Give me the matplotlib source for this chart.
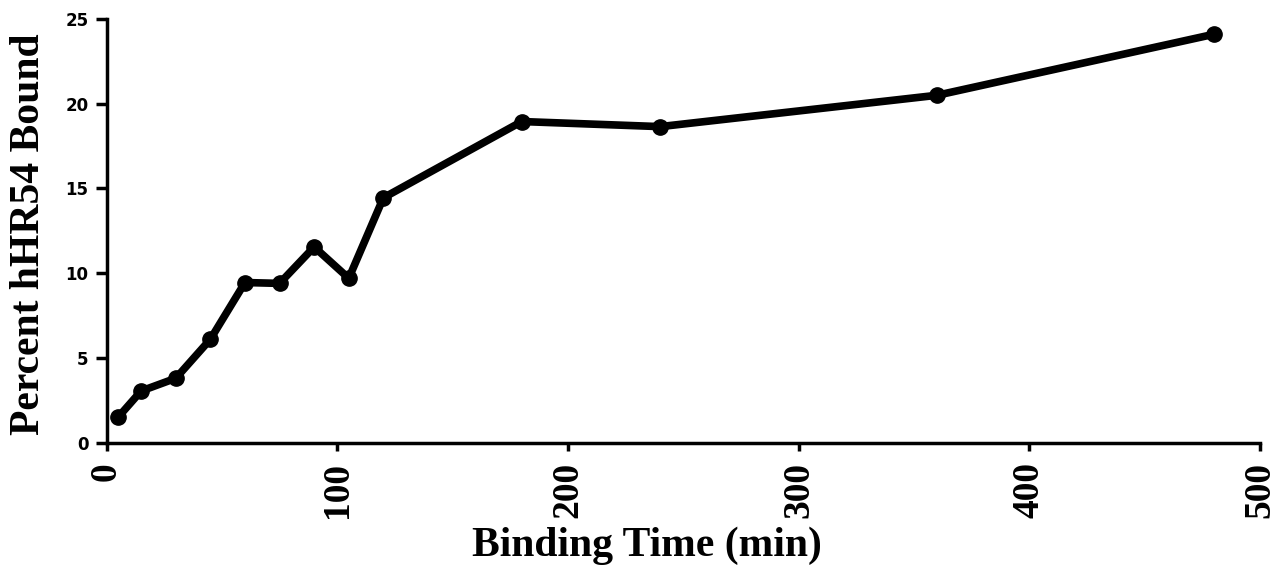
import matplotlib
matplotlib.use("Agg")
import matplotlib.pyplot as plt

# binding time course
time_min = [5, 15, 30, 45, 60, 75, 90, 105, 120, 180, 240, 360, 480]
pct_bound = [1.5, 3.05, 3.8, 6.1, 9.45, 9.4, 11.55, 9.7, 14.45, 18.95, 18.65, 20.5, 24.1]

x_ticks = [0, 100, 200, 300, 400, 500]
y_ticks = [0, 5, 10, 15, 20, 25]

fig = plt.figure(figsize=(12.85, 5.69), dpi=100)
ax = fig.add_axes([0.0829, 0.222, 0.8977, 0.7446])

ax.plot(time_min, pct_bound, color='black', linewidth=5.5, marker='o',
        markersize=11, solid_joinstyle='round', clip_on=False)

ax.set_xlim(0, 500)
ax.set_ylim(0, 25)
ax.set_xticks(x_ticks)
ax.set_yticks(y_ticks)

for s in ['top', 'right']:
    ax.spines[s].set_visible(False)
for s in ['left', 'bottom']:
    ax.spines[s].set_linewidth(2.5)

ax.tick_params(axis='both', direction='out', width=2.5, color='black')
ax.tick_params(axis='x', length=6, pad=8)
ax.tick_params(axis='y', length=8, pad=5)

ax.set_xticklabels([str(v) for v in x_ticks], rotation=90, family='Liberation Serif',
                   fontweight='bold', fontsize=27)
ax.set_yticklabels([str(v) for v in y_ticks], family='DejaVu Sans',
                   fontweight='bold', fontsize=12)

ax.set_xlabel('Binding Time (min)', family='Liberation Serif', fontweight='bold', fontsize=30)
ax.set_ylabel('Percent hHR54 Bound', family='Liberation Serif', fontweight='bold', fontsize=30)
ax.xaxis.set_label_coords(0.4686, -0.197)
ax.yaxis.set_label_coords(-0.051, 0.491)

fig.savefig('out.png', dpi=100)
